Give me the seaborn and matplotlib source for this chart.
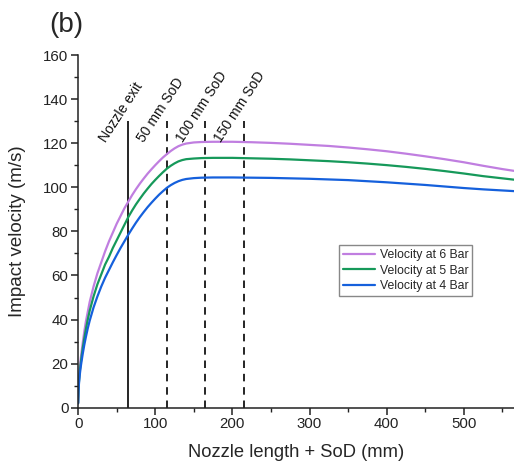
import matplotlib
matplotlib.use("Agg")
import matplotlib.pyplot as plt
import seaborn as sns
import pandas as pd

# ---- data ----
x_mm = [0, 0.5, 1, 2, 3, 4, 6, 8, 10, 12.5, 15, 20, 25, 30, 35, 40, 45, 50, 55, 60,
        65, 70, 75, 80, 85, 90, 95, 100, 105, 110, 115, 120, 125, 130, 135, 140,
        150, 160, 175, 200, 225, 250, 275, 300, 325, 350, 375, 400, 425, 450, 475,
        500, 525, 550, 565]
v_6bar = [2, 9, 12.5, 17.5, 21, 24, 29.5, 34.5, 39, 43.5, 48, 55, 61, 66, 71, 75.5,
          79.5, 83.5, 87, 90.5, 93.5, 96.5, 99.2, 101.7, 104, 106.2, 108.2, 110.1,
          111.9, 113.6, 115.1, 116.5, 117.7, 118.7, 119.4, 119.9, 120.4, 120.6,
          120.7, 120.7, 120.5, 120.2, 119.8, 119.3, 118.8, 118.1, 117.3, 116.4,
          115.3, 114.1, 112.8, 111.4, 109.8, 108.3, 107.5]
v_5bar = [2, 8, 11.5, 16, 19, 22, 27, 31.5, 35.5, 40, 44, 50.5, 56, 60.5, 65, 68.5,
          72.5, 76, 79.5, 83, 86.5, 89.5, 92.3, 94.8, 97.2, 99.4, 101.5, 103.4,
          105.2, 106.9, 108.5, 109.8, 110.9, 111.8, 112.4, 112.8, 113.1, 113.3,
          113.4, 113.4, 113.2, 113.0, 112.7, 112.3, 111.9, 111.4, 110.8, 110.1,
          109.3, 108.4, 107.4, 106.3, 105.1, 104.1, 103.5]
v_4bar = [2, 7.5, 10.5, 14.5, 17.5, 20, 24.5, 28.5, 32, 36, 39.5, 45.5, 50.5, 55,
          59, 62.5, 66, 69.3, 72.5, 75.5, 78.5, 81.3, 84, 86.5, 88.8, 91, 93, 94.9,
          96.7, 98.3, 99.8, 101, 102, 102.8, 103.4, 103.8, 104.2, 104.4, 104.5,
          104.5, 104.4, 104.3, 104.1, 103.9, 103.6, 103.3, 102.8, 102.3, 101.7,
          101.1, 100.4, 99.7, 99.1, 98.6, 98.3]
series_names = ["Velocity at 6 Bar", "Velocity at 5 Bar", "Velocity at 4 Bar"]
series_colors = ["#c07ee0", "#16995a", "#1560dc"]

marker_x = [65, 115, 165, 215]
marker_labels = ["Nozzle exit", "50 mm SoD", "100 mm SoD", "150 mm SoD"]
marker_top = 130

x_ticks = [0, 100, 200, 300, 400, 500]
y_ticks = [0, 20, 40, 60, 80, 100, 120, 140, 160]

# ---- build long-form table ----
rows = []
for name, vals in zip(series_names, [v_6bar, v_5bar, v_4bar]):
    for xv, yv in zip(x_mm, vals):
        rows.append({"x": xv, "v": yv, "series": name})
df = pd.DataFrame(rows)

sns.set_style("ticks")
plt.rcParams["font.family"] = ["Liberation Sans", "DejaVu Sans"]

fig = plt.figure(figsize=(5.14, 4.68), dpi=100)
ax = fig.add_axes([0.152, 0.129, 0.848, 0.753])

sns.lineplot(data=df, x="x", y="v", hue="series", hue_order=series_names,
             palette=dict(zip(series_names, series_colors)), linewidth=1.6,
             ax=ax, estimator=None, sort=True)

# reference lines
for i, (mx, lab) in enumerate(zip(marker_x, marker_labels)):
    ls = "-" if i == 0 else (0, (4.5, 3.5))
    ax.vlines(mx, 0, marker_top, colors="black", linestyles=ls, linewidth=1.2, zorder=1)
    ax.text(mx - 26, 119.5, lab, rotation=57, rotation_mode="anchor",
            ha="left", va="bottom", fontsize=10, color="#111111")

ax.set_xlim(0, 565)
ax.set_ylim(0, 160)
ax.set_xticks(x_ticks)
ax.set_yticks(y_ticks)
ax.set_xticks([50, 150, 250, 350, 450, 550], minor=True)
ax.set_yticks([10, 30, 50, 70, 90, 110, 130, 150], minor=True)
ax.tick_params(axis="both", which="major", direction="out", length=5, width=1.1,
               labelsize=10.8, colors="#222222", pad=2)
ax.tick_params(axis="both", which="minor", direction="out", length=3, width=1.0,
               colors="#222222")
for s in ["top", "right"]:
    ax.spines[s].set_visible(False)
for s in ["left", "bottom"]:
    ax.spines[s].set_linewidth(1.1)
    ax.spines[s].set_color("#222222")

ax.set_xlabel("Nozzle length + SoD (mm)", fontsize=13.2, labelpad=9)
ax.set_ylabel("Impact velocity (m/s)", fontsize=13.5, labelpad=12)

leg = ax.legend(loc="upper left", bbox_to_anchor=(0.599, 0.461), fontsize=8.8,
                frameon=True, fancybox=False, edgecolor="#888888", framealpha=1,
                handlelength=2.6, handletextpad=0.4, labelspacing=0.3,
                borderpad=0.3, borderaxespad=0)
leg.get_frame().set_linewidth(1.0)

fig.text(0.096, 0.947, "(b)", fontsize=20, ha="left", va="center")

fig.savefig("out.png", dpi=100)
